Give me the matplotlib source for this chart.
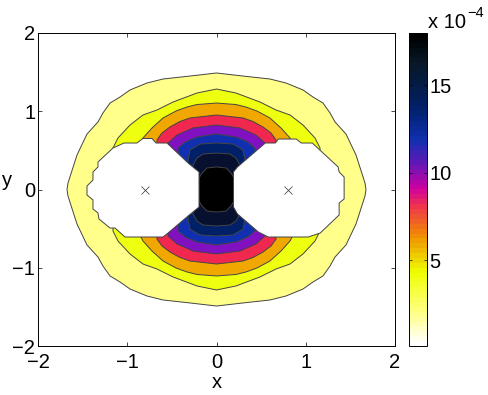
import matplotlib
matplotlib.use("Agg")
import matplotlib.pyplot as plt
import numpy as np
from matplotlib.cm import ScalarMappable
from matplotlib.colors import LinearSegmentedColormap, Normalize

plt.rcParams["font.family"] = ["Liberation Sans", "DejaVu Sans"]

# contour levels, one quarter of each curve (x, y), outermost first
level_x = [
    [0, .297, .599, .779, .969, 1.081, 1.193, 1.272, 1.328, 1.451, 1.563, 1.664, 1.675],
    [0, .218, .487, .667, .824, .969, 1.104, 1.16],
    [0, .218, .331, .454, .599, .723, .824, .85],
    [0, .297, .409, .521, .611, .667],
    [0, .263, .443, .543],
    [0, .218, .353, .431],
    [0, .185, .297, .319],
    [0, .151, .218, .263],
    [0, .106, .162, .196, .196],
]
level_y = [
    [1.489, 1.45, 1.412, 1.361, 1.272, 1.182, 1.105, .978, .863, .709, .441, .083, 0],
    [1.284, 1.233, 1.118, 1.016, .952, .824, .658, .53],
    [1.105, 1.086, 1.054, 1.003, .914, .786, .658, .6],
    [.952, .914, .869, .799, .722, .633],
    [.824, .786, .696, .594],
    [.709, .671, .607, .53],
    [.594, .581, .505, .377],
    [.466, .454, .403, .313],
    [.288, .275, .211, .147, 0],
]
level_colors = ["#FFFF8A", "#EEFF10", "#F0A800", "#F02850", "#8010C0",
                "#1030B0", "#002068", "#081030", "#000000"]

# excluded regions around the two charges
left_hole_x = [-.196, -.319, -.555, -.678, -.723, -.824, -.891, -1.036, -1.16, -1.328,
               -1.328, -1.384, -1.384, -1.451, -1.451, -1.384, -1.384, -1.328, -1.317,
               -1.193, -1.137, -1.025, -.599, -.543, -.319, -.196]
left_hole_y = [.224, .339, .594, .594, .652, .652, .594, .594, .53, .351,
               .288, .224, .121, .045, -.07, -.134, -.249, -.3, -.377,
               -.492, -.492, -.607, -.607, -.556, -.339, -.224]
right_hole_x = [.19, .235, .547, .659, .693, .894, .95, 1.073, 1.363, 1.374, 1.43,
                1.43, 1.374, 1.374, 1.162, 1.028, .581, .469, .235, .19]
right_hole_y = [.224, .288, .594, .594, .645, .645, .594, .594, .288, .224, .16,
                -.121, -.173, -.326, -.556, -.607, -.607, -.543, -.313, -.224]

charge_x = [-0.8, 0.8]
charge_y = [0, 0]

ticks = [-2, -1, 0, 1, 2]
cbar_values = [0.1, 2.0, 4.25, 6.3, 8.0, 9.1, 10.6, 11.9, 13.8, 16.3, 18.0]
cbar_colors = ["#FFFFFF", "#FFFF80", "#EEFF00", "#F09000", "#F03848", "#D000A0",
               "#6018B8", "#1030B0", "#002068", "#081828", "#000000"]
cbar_ticks = [5, 10, 15]


def closed_curve(qx, qy):
    # mirror a quarter curve into the other three quadrants
    qx = np.array(qx)
    qy = np.array(qy)
    xs = np.concatenate([qx, qx[::-1], -qx, -qx[::-1]])
    ys = np.concatenate([qy, -qy[::-1], -qy, qy[::-1]])
    return xs, ys


fig = plt.figure(figsize=(4.88, 3.95), dpi=100)
ax = fig.add_axes([38 / 488, 1 - 346 / 395, 357 / 488, 313 / 395])

for qx, qy, c in zip(level_x, level_y, level_colors):
    xs, ys = closed_curve(qx, qy)
    ax.fill(xs, ys, facecolor=c, edgecolor="#444444", linewidth=0.7)

ax.fill(left_hole_x, left_hole_y, facecolor="white", edgecolor="#444444",
        linewidth=0.7, zorder=3)
ax.fill(right_hole_x, right_hole_y, facecolor="white", edgecolor="#444444",
        linewidth=0.7, zorder=3)

ax.plot(charge_x, charge_y, "x", color="#333333", markersize=6,
        markeredgewidth=0.5, zorder=4)

ax.set_xlim(-2, 2)
ax.set_ylim(-2, 2)
ax.set_xticks(ticks)
ax.set_yticks(ticks)
ax.tick_params(direction="in", length=3, width=0.5, top=True, right=True,
               labelsize=14.5)
ax.tick_params(axis="x", pad=5)
ax.tick_params(axis="y", pad=2)
ax.set_xlabel("x", fontsize=14.5, va="center")
ax.set_ylabel("y", fontsize=14.5, rotation=0, ha="center", va="center")
ax.xaxis.set_label_coords(0.5, -37 / 313)
ax.yaxis.set_label_coords(-31 / 357, 166 / 313)
for s in ax.spines.values():
    s.set_linewidth(0.7)

# colorbar
positions = (np.array(cbar_values) - cbar_values[0]) / (cbar_values[-1] - cbar_values[0])
cmap = LinearSegmentedColormap.from_list("cb", list(zip(positions, cbar_colors)), N=64)
cax = fig.add_axes([408.5 / 488, 1 - 346 / 395, 18 / 488, 313 / 395])
sm = ScalarMappable(norm=Normalize(cbar_values[0], cbar_values[-1]), cmap=cmap)
cb = fig.colorbar(sm, cax=cax)
cb.set_ticks(cbar_ticks)
cb.ax.tick_params(direction="in", length=2.5, width=0.5, labelsize=14.5, pad=2, left=True)
cb.outline.set_linewidth(0.7)

fig.text(428 / 488, 1 - 28 / 395, "x 10", fontsize=14.5, ha="left", va="baseline")
fig.text(467 / 488, 1 - 17 / 395, "\u22124", fontsize=10.5, ha="left", va="baseline")

fig.savefig("out.png", dpi=100)
